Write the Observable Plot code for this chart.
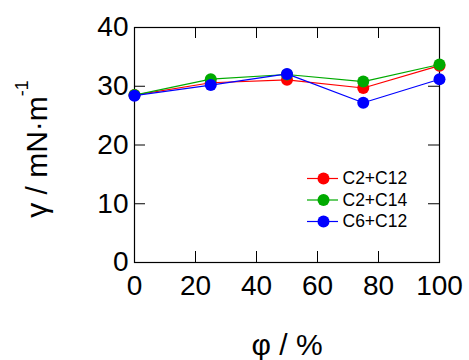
<!DOCTYPE html>
<html><head><meta charset="utf-8">
<script src="https://cdn.jsdelivr.net/npm/d3@7"></script>
<script src="https://cdn.jsdelivr.net/npm/@observablehq/plot@0.6"></script>
<style>body{margin:0;background:#fff}</style>
</head><body><div id="chart"></div>
<script>
const phi = [0, 25, 50, 75, 100];
const seriesNames = ["C2+C12", "C2+C14", "C6+C12"];
const c2c12 = [28.5, 30.6, 31.1, 29.7, 33.5];
const c2c14 = [28.5, 31.2, 32.0, 30.8, 33.7];
const c6c12 = [28.4, 30.2, 32.1, 27.2, 31.2];
const seriesColors = ["#ff0000", "#00aa00", "#0000ff"];
const xTicks = [0, 20, 40, 60, 80, 100];
const yTicks = [0, 10, 20, 30, 40];
const yTitleMain = "γ / mN·m";
const yTitleSup = "-1";
const xTitle = "φ / %";

const seriesValues = [c2c12, c2c14, c6c12];
const rows = seriesNames.flatMap((s, i) => phi.map((x, j) => ({series: s, x, y: seriesValues[i][j]})));

const W = 469, H = 360, mL = 134, mR = 30, mT = 27, mB = 98;
const fw = W - mL - mR, fh = H - mT - mB, tk = 11;
const font = "Liberation Sans, Arial, sans-serif";

const marks = [
  Plot.frame({stroke: "#000", strokeWidth: 1.2}),
  Plot.tickX(xTicks.slice(1, -1), {x: d => d, insetTop: fh - tk, stroke: "#000"}),
  Plot.tickX(xTicks.slice(1, -1), {x: d => d, insetBottom: fh - tk, stroke: "#000"}),
  Plot.tickY(yTicks.slice(1, -1), {y: d => d, insetRight: fw - tk, stroke: "#000"}),
  Plot.tickY(yTicks.slice(1, -1), {y: d => d, insetLeft: fw - tk, stroke: "#000"}),
  Plot.axisX({ticks: xTicks, tickSize: 0, tickPadding: 13, fontSize: 28, label: null, tickFormat: d => String(d)}),
  Plot.axisY({ticks: yTicks, tickSize: 0, tickPadding: 6, fontSize: 28, label: null, tickFormat: d => String(d)})
];
seriesNames.forEach((s, i) => {
  const data = rows.filter(r => r.series === s);
  marks.push(Plot.line(data, {x: "x", y: "y", stroke: seriesColors[i], strokeWidth: 1.2}));
  marks.push(Plot.dot(data, {x: "x", y: "y", fill: seriesColors[i], r: 6}));
});
// legend
seriesNames.forEach((s, i) => {
  const dy = 151 + 21.5 * i;
  marks.push(Plot.ruleY([40], {y: d => d, insetLeft: 173, insetRight: 101, dy, stroke: seriesColors[i], strokeWidth: 1.2}));
  marks.push(Plot.dot([s], {frameAnchor: "top-left", dx: 189, dy, r: 6, fill: seriesColors[i]}));
  marks.push(Plot.text([s], {text: d => d, frameAnchor: "top-left", dx: 208, dy, textAnchor: "start", lineAnchor: "middle", fontSize: 17.5, fill: "#000"}));
});
// axis titles
marks.push(Plot.text([yTitleMain], {text: d => d, frameAnchor: "left", dx: -97, dy: 4, rotate: -90, textAnchor: "middle", lineAnchor: "middle", fontSize: 30, fill: "#000"}));
marks.push(Plot.text([xTitle], {text: d => d, frameAnchor: "bottom", dy: 92, textAnchor: "middle", lineAnchor: "bottom", fontSize: 30, fill: "#000"}));

const chart = Plot.plot({
  width: W, height: H,
  marginLeft: mL, marginRight: mR, marginTop: mT, marginBottom: mB,
  x: {domain: [0, 100]},
  y: {domain: [0, 40]},
  style: {fontFamily: font, background: "#fff", color: "#000", overflow: "visible"},
  marks
});
d3.select(chart).selectAll("text")
  .filter(function () { return this.textContent === yTitleMain; })
  .each(function () {
    d3.select(this).append("tspan").attr("dy", -19).attr("font-size", 18).text(yTitleSup);
  });
document.getElementById("chart").appendChild(chart);
</script>
</body></html>
